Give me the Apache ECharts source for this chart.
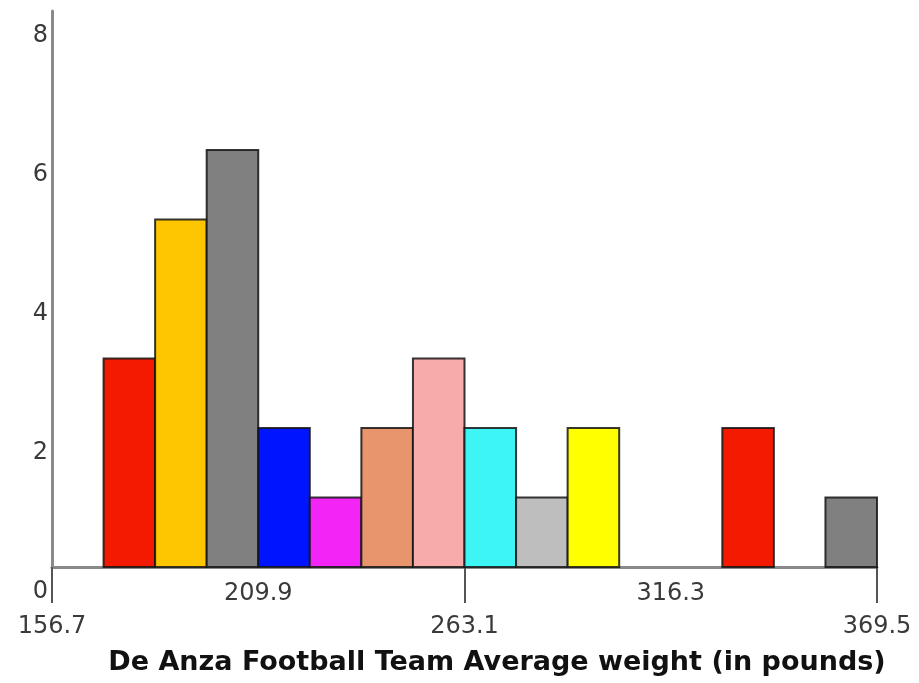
<!DOCTYPE html>
<html lang="en">
<head>
    <meta charset="UTF-8">
    <title>Histogram</title>
    <script src="https://cdn.jsdelivr.net/npm/echarts@6.0.0/dist/echarts.min.js"></script>
    <style>
        html, body { margin: 0; padding: 0; background: #fff; }
    </style>
</head>
<body>
<div id="box" style="width: 919px;height: 683px;"></div>
<script>
    // bin edges (lower bound of each bin), width 13.3
    var binStarts = [156.7, 170.0, 183.3, 196.6, 209.9, 223.2, 236.5, 249.8,
                     263.1, 276.4, 289.7, 303.0, 316.3, 329.6, 342.9, 356.2];
    var binWidth = 13.3;
    var counts = [0, 3, 5, 6, 2, 1, 2, 3, 2, 1, 2, 0, 0, 2, 0, 1];
    var barColors = ['#ffffff', '#f41a00', '#fdc600', '#808080', '#0015ff', '#f224f6', '#e8946c', '#f8abab',
                     '#3ef5f5', '#bebebe', '#ffff00', '#ffffff', '#ffffff', '#f41a00', '#ffffff', '#808080'];
    var lowTicks = [156.7, 263.1, 369.5];
    var highTicks = [209.9, 316.3];
    var yTicks = [0, 2, 4, 6, 8];

    var myChart = echarts.init(document.getElementById('box'));

    var histData = [];
    for (var i = 0; i < counts.length; i++) {
        histData.push([binStarts[i], binStarts[i] + binWidth, counts[i], i]);
    }

    var axisGray = '#8a8a8a';
    var labelFont = {fontFamily: 'DejaVu Sans', fontSize: 24, color: '#3a3a3a'};

    var option = {
        animation: false,
        backgroundColor: '#fff',
        grid: {left: 52, right: 42, top: 11, bottom: 116},
        title: {
            text: 'De Anza Football Team Average weight (in pounds)',
            left: 496,
            textAlign: 'center',
            top: 644,
            textStyle: {fontFamily: 'DejaVu Sans', fontWeight: 'bold', fontSize: 27, color: '#111'}
        },
        xAxis: [{
            type: 'value', min: 156.7, max: 369.5,
            axisLine: {show: true, lineStyle: {color: axisGray, width: 3}},
            axisTick: {show: true, customValues: lowTicks, length: 36, lineStyle: {color: '#555', width: 2}},
            axisLabel: Object.assign({customValues: lowTicks, margin: 48,
                formatter: function (v) { return v.toFixed(1); }}, labelFont),
            splitLine: {show: false}
        }, {
            type: 'value', min: 156.7, max: 369.5, position: 'bottom',
            axisLine: {show: false},
            axisTick: {show: false},
            axisLabel: Object.assign({customValues: highTicks, margin: 15,
                formatter: function (v) { return v.toFixed(1); }}, labelFont),
            splitLine: {show: false}
        }],
        yAxis: {
            type: 'value', min: 0, max: 8,
            axisLine: {show: true, lineStyle: {color: axisGray, width: 3}},
            axisTick: {show: false},
            axisLabel: Object.assign({customValues: yTicks, margin: 4,
                verticalAlign: 'top', padding: [13, 0, 0, 0]}, labelFont),
            splitLine: {show: false}
        },
        series: [{
            type: 'custom',
            xAxisIndex: 0,
            data: histData,
            z: 1,
            renderItem: function (params, api) {
                var h = api.value(2);
                if (!h) return null;
                var p0 = api.coord([api.value(0), 0]);
                var p1 = api.coord([api.value(1), h]);
                var idx = api.value(3);
                return {
                    type: 'rect',
                    shape: {x: p0[0], y: p1[1], width: p1[0] - p0[0], height: p0[1] - p1[1]},
                    style: {fill: barColors[idx], stroke: 'rgba(20,20,20,0.85)', lineWidth: 2}
                };
            }
        }]
    };
    option.title.left = 492;
    myChart.setOption(option);
</script>
</body>
</html>
